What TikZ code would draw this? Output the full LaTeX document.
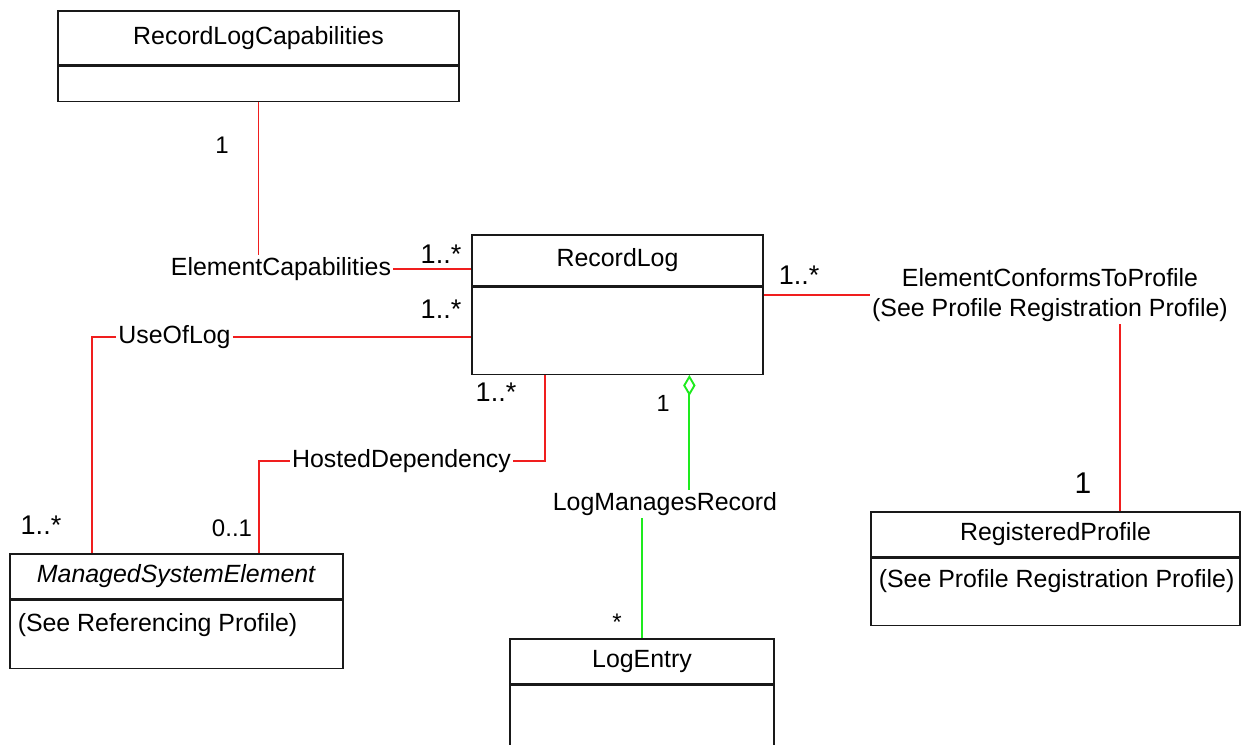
\documentclass[tikz,border=0pt]{standalone}
\usepackage{fontspec}
\setmainfont{Liberation Sans}
\usetikzlibrary{arrows.meta,positioning}
\definecolor{assocred}{RGB}{240,30,30}
\definecolor{aggrgreen}{RGB}{30,235,30}

\begin{document}
\begin{tikzpicture}[x=0.5pt, y=-0.5pt,
        clshead/.style={draw=black!90, line width=0.65pt, inner sep=0pt},
        clsbody/.style={draw=black!90, line width=0.65pt, inner sep=0pt, below=0pt of #1},
        assoc/.style={assocred, line width=0.95pt},
        aggr/.style={aggrgreen, line width=0.95pt},
        lbl/.style={inner sep=1pt, font=\fontsize{12.45}{15}\selectfont},
        mult/.style={inner sep=0pt, font=\fontsize{13.5}{16}\selectfont}]
        \def\px{0.5pt}

        \useasboundingbox (0,0) rectangle (1245,744);
        \clip (0,0) rectangle (1245,744);

        % classes
        \node[clshead, lbl, inner sep=0pt, minimum width=401*\px, minimum height=54*\px] (rlc) at (258.5,38) {RecordLogCapabilities};
        \node[clsbody=rlc, minimum width=401*\px, minimum height=35*\px] (rlcb) {};

        \node[clshead, lbl, inner sep=0pt, minimum width=291*\px, minimum height=51*\px] (rl) at (617.5,260.5) {RecordLog};
        \node[clsbody=rl, minimum width=291*\px, minimum height=87*\px] (rlb) {};

        \node[clshead, lbl, inner sep=0pt, minimum width=333*\px, minimum height=45*\px] (mse) at (176.5,576.5) {\textit{ManagedSystemElement}};
        \node[clsbody=mse, minimum width=333*\px, minimum height=68*\px] (mseb) {};
        \node[lbl, anchor=base west] at ([xshift=6*\px, yshift=-32*\px]mseb.north west) {(See Referencing Profile)};

        \node[clshead, lbl, inner sep=0pt, minimum width=264*\px, minimum height=45*\px] (le) at (642,661.5) {LogEntry};
        \node[clsbody=le, minimum width=264*\px, minimum height=80*\px] (leb) {};

        \node[clshead, lbl, inner sep=0pt, minimum width=369*\px, minimum height=45*\px] (rp) at (1055.5,534.5) {RegisteredProfile};
        \node[clsbody=rp, minimum width=369*\px, minimum height=67*\px] (rpb) {};
        \node[lbl, anchor=base west] at ([xshift=6*\px, yshift=-30*\px]rpb.north west) {(See Profile Registration Profile)};

        % association names
        \node[lbl] (ec) at (281,269) {ElementCapabilities};
        \node[lbl] (uol) at (174.5,337) {UseOfLog};
        \node[lbl] (hd) at (401.5,461) {HostedDependency};
        \node[lbl] (lmr) at (665,504) {LogManagesRecord};
        \node[lbl, align=center] (ecp) at (1050,295) {ElementConformsToProfile\\(See Profile Registration Profile)};

        % connectors
        \draw[assoc] (rlcb.south) -- (rlcb.south |- ec.north);
        \draw[assoc] (ec.east) -- (ec.east -| rl.west);
        \draw[assoc] (uol.east) -- (uol.east -| rlb.west);
        \draw[assoc] (uol.west) -| ([xshift=83*\px]mse.north west);
        \draw[assoc] (hd.east) -| ([xshift=74*\px]rlb.south west);
        \draw[assoc] (hd.west) -| ([xshift=250*\px]mse.north west);
        \draw[assoc] (ecp.west) -- (ecp.west -| rlb.east);
        \coordinate (rptop) at ([xshift=250*\px]rp.north west);
        \draw[assoc] (rptop) -- (rptop |- ecp.south);

        \coordinate (aggtop) at ([xshift=218*\px]rlb.south west);
        \draw[aggr, {Diamond[open, length=10.5pt, width=6.2pt]}-] (aggtop) -- (aggtop |- lmr.north);
        \draw[aggr] (le.north |- lmr.south) -- (le.north);

        % multiplicities
        \node[mult, font=\fontsize{12}{14}\selectfont] at (222,145) {1};
        \node[mult] at (441,254) {1..*};
        \node[mult] at (441,309) {1..*};
        \node[mult] at (496,392) {1..*};
        \node[mult, font=\fontsize{11.7}{14}\selectfont] at (663,403) {1};
        \node[mult] at (799,275) {1..*};
        \node[mult, font=\fontsize{15}{18}\selectfont] at (1083,483) {1};
        \node[mult] at (41,525) {1..*};
        \node[mult, font=\fontsize{12}{14}\selectfont] at (232,528) {0..1};
        \node[mult, font=\fontsize{12}{14}\selectfont] at (617,622) {*};

    \end{tikzpicture}
\end{document}
